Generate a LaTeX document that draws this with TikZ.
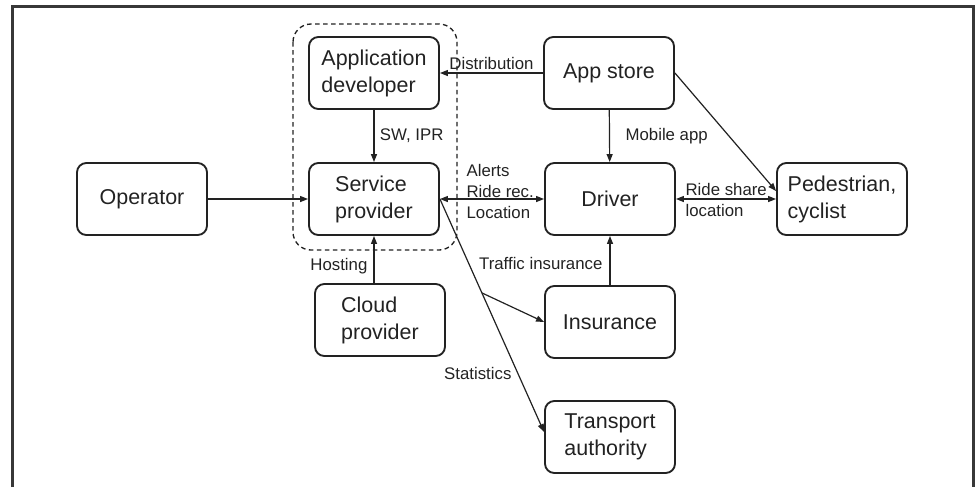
\documentclass[tikz,border=0pt]{standalone}
\usepackage{fontspec}
\setmainfont{Liberation Sans}
\usetikzlibrary{arrows.meta}
\definecolor{ink}{HTML}{222222}
\begin{document}
\begin{tikzpicture}[x=0.75pt,y=-0.75pt,
  box/.style={draw=ink, line width=1.4pt, rounded corners=7pt,
    minimum width=97.5pt, minimum height=54pt, align=left, text=ink,
    font=\fontsize{16.1pt}{20.25pt}\selectfont, inner sep=2pt},
  lbl/.style={font=\fontsize{12.6pt}{15.75pt}\selectfont, text=ink,
    inner sep=1pt, align=left},
  tip/.style={-{Triangle[length=6pt,width=4.5pt]}},
  arr/.style={draw=ink, line width=0.9pt, tip},
  biarr/.style={draw=ink, line width=0.9pt,
    {Triangle[length=6pt,width=4.5pt]}-{Triangle[length=6pt,width=4.5pt]}},
]
\useasboundingbox (0,0) rectangle (976,487);

% outer frame
\draw[ink!90, line width=2.25pt] (12,487) -- (12,6) -- (973,6) -- (973,487);

% group around developer and service provider
\draw[ink, line width=1pt, dash pattern=on 3.5pt off 2.5pt, rounded corners=13.5pt]
  (293,24) rectangle (457,250);

% actors
\node[box] (dev)   at (374,73)  {Application\\developer};
\node[box] (sp)    at (374,199) {Service\\provider};
\node[box] (op)    at (142,199) {Operator};
\node[box] (store) at (609,73)  {App store};
\node[box] (drv)   at (610,199) {Driver};
\node[box] (ped)   at (842,199) {Pedestrian,\\cyclist};
\node[box] (cloud) at (380,320) {Cloud\\provider};
\node[box] (ins)   at (610,322) {Insurance};
\node[box] (ta)    at (610,437) {Transport\\authority};

% flows
\draw[arr] (store) -- (dev) node[lbl, midway, above=1pt] {Distribution};
\draw[arr] (dev) -- (sp) node[lbl, midway, right=3pt] {SW, IPR};
\draw[arr] (op) -- (sp);
\draw[biarr] (sp) -- (drv);
\node[lbl, anchor=west] (spdl) at (465,191) {Alerts\\Ride rec.\\Location};
\draw[arr] (store) -- (drv);
\node[lbl, anchor=west] (mapp) at (624,136) {Mobile app};
\draw[arr] (store.east) -- ([yshift=6pt]ped.west);
\draw[biarr] (drv) -- (ped);
\node[lbl, anchor=west] (rsl) at (684,200) {Ride share\\location};
\draw[arr] (cloud.north -| sp.south) -- (sp.south);
\node[lbl, anchor=east] (host) at (369,266) {Hosting};
\draw[arr] (ins) -- (drv);
\node[lbl, anchor=east] (tins) at (604,263) {Traffic insurance};
\draw[arr] (sp.east) -- ([yshift=3.75pt]ta.west) coordinate[pos=0.403] (br);
\draw[arr] (br) -- (ins.west);
\node[lbl, anchor=east] (stat) at (513,373) {Statistics};
\end{tikzpicture}
\end{document}
